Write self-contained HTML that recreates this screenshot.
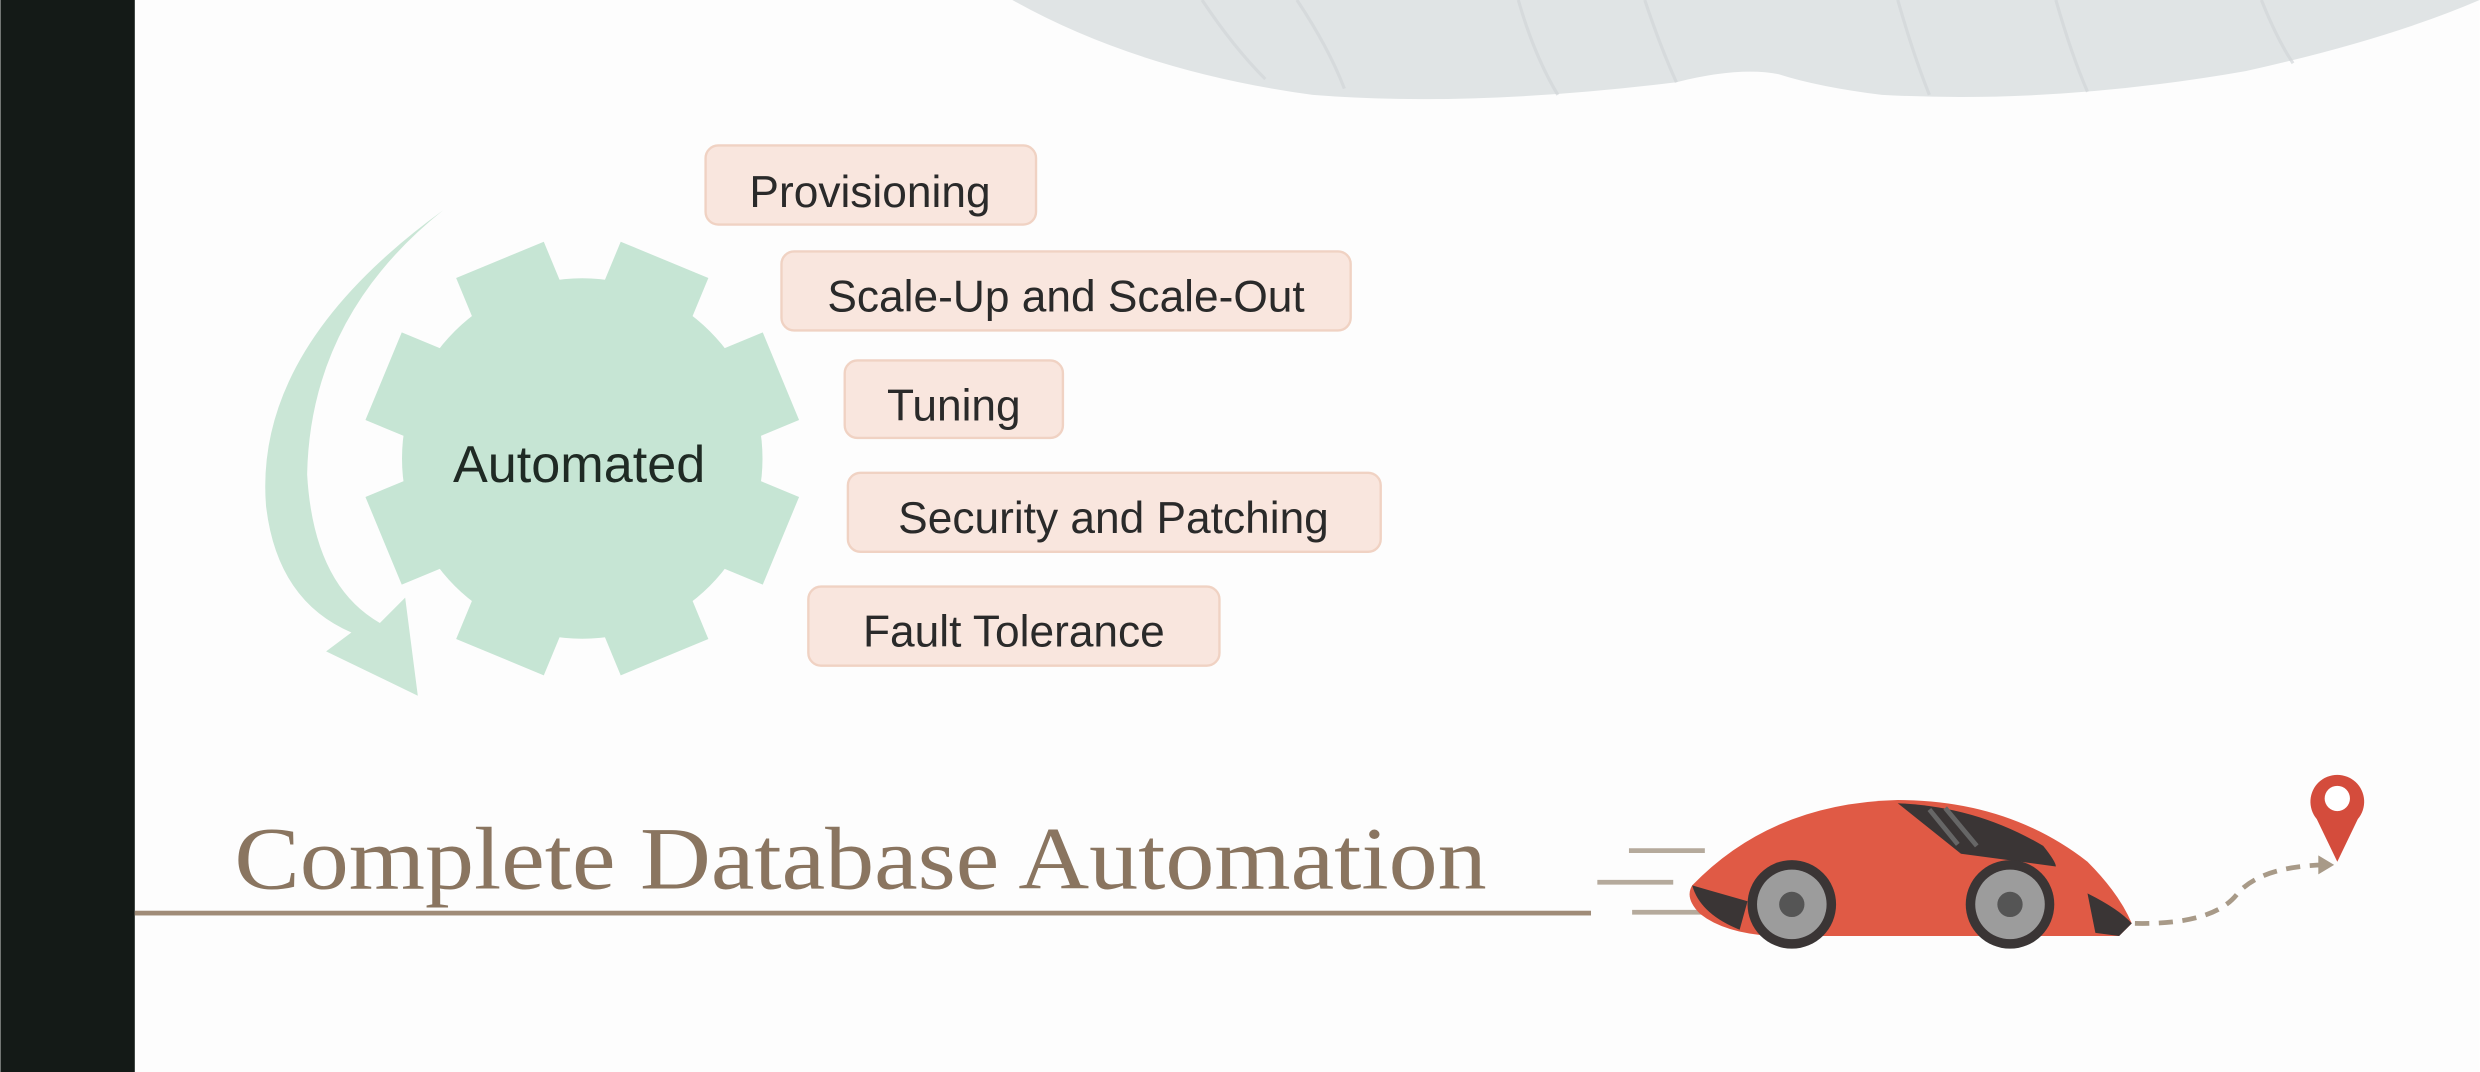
<!DOCTYPE html>
<html><head><meta charset="utf-8"><style>
html,body{margin:0;padding:0;background:#fff;}
svg{display:block;}
text{font-family:"Liberation Sans",sans-serif;}
</style></head><body>
<svg width="2480" height="1072" viewBox="0 0 1568 678" xmlns="http://www.w3.org/2000/svg">
<rect x="0" y="0" width="1568" height="678" fill="#fdfdfd"/>
<rect x="0" y="0" width="85" height="678" fill="#141a17"/>
<!-- top wave -->
<path d="M640,0 Q720,45 830,60 Q930,68 1060,52 Q1100,42 1125,47 Q1150,55 1190,60 Q1300,66 1420,45 Q1510,25 1568,0 Z" fill="#e0e4e5"/>
<g stroke="#d2d6d8" stroke-width="2" fill="none" opacity="0.7">
<path d="M760,0 Q780,30 800,50 M820,0 Q840,30 850,56 M960,0 Q970,35 985,60 M1040,0 Q1050,30 1060,52 M1200,0 Q1210,35 1220,60 M1300,0 Q1310,35 1320,58 M1430,0 Q1440,25 1450,40"/>
</g>
<!-- arrow -->
<path d="M280,133 Q160,220 168,320 Q175,380 222,400 L206,412 L264,440 L256,378 L240,394 Q198,370 194,300 Q196,200 280,133 Z" fill="#cae6d6"/>
<!-- gear -->
<g fill="#c6e5d4" transform="translate(368,290)">
<circle r="114"/>
<rect x="-30" y="-136" width="60" height="50" transform="rotate(22.5)"/>
<rect x="-30" y="-136" width="60" height="50" transform="rotate(67.5)"/>
<rect x="-30" y="-136" width="60" height="50" transform="rotate(112.5)"/>
<rect x="-30" y="-136" width="60" height="50" transform="rotate(157.5)"/>
<rect x="-30" y="-136" width="60" height="50" transform="rotate(202.5)"/>
<rect x="-30" y="-136" width="60" height="50" transform="rotate(247.5)"/>
<rect x="-30" y="-136" width="60" height="50" transform="rotate(292.5)"/>
<rect x="-30" y="-136" width="60" height="50" transform="rotate(337.5)"/>
</g>
<text x="366" y="305" font-size="33" fill="#1f2a24" text-anchor="middle">Automated</text>
<!-- boxes -->
<g fill="#f9e6de" stroke="#f0d2c3" stroke-width="1.5">
<rect x="446" y="92" width="209" height="50" rx="8"/>
<rect x="494" y="159" width="360" height="50" rx="8"/>
<rect x="534" y="228" width="138" height="49" rx="8"/>
<rect x="536" y="299" width="337" height="50" rx="8"/>
<rect x="511" y="371" width="260" height="50" rx="8"/>
</g>
<g font-size="28" fill="#2a2a2a" text-anchor="middle">
<text x="550" y="131">Provisioning</text>
<text x="674" y="197">Scale-Up and Scale-Out</text>
<text x="603" y="266">Tuning</text>
<text x="704" y="337">Security and Patching</text>
<text x="641" y="409">Fault Tolerance</text>
</g>
<!-- title -->
<text x="148" y="562" font-size="56" fill="#8a7560" textLength="792" lengthAdjust="spacingAndGlyphs" style="font-family:'Liberation Serif',serif">Complete Database Automation</text>
<rect x="85" y="576" width="921" height="3" fill="#a08c78"/>
<!-- car -->
<g stroke="#b5aa9c" stroke-width="3">
<line x1="1030" y1="538" x2="1078" y2="538"/>
<line x1="1010" y1="558" x2="1058" y2="558"/>
<line x1="1032" y1="577" x2="1080" y2="577"/>
</g>
<path d="M1070,560 Q1120,508 1200,506 Q1270,506 1320,545 Q1340,565 1348,584 L1340,592 L1120,592 Q1090,590 1075,578 Q1065,568 1070,560 Z" fill="#e05a45"/>
<path d="M1200,508 Q1250,510 1292,535 Q1300,545 1300,548 L1240,540 Z" fill="#3a3535"/>
<path d="M1220,512 L1238,534 M1230,511 L1250,535" stroke="#666" stroke-width="3"/>
<path d="M1320,565 Q1340,575 1348,584 L1340,592 L1325,590 Z" fill="#3a3535"/>
<path d="M1070,560 Q1075,578 1100,588 L1105,570 Z" fill="#3a3535"/>
<g>
<circle cx="1133" cy="572" r="28" fill="#3a3535"/><circle cx="1133" cy="572" r="22" fill="#9c9c9c"/><circle cx="1133" cy="572" r="8" fill="#555"/>
<circle cx="1271" cy="572" r="28" fill="#3a3535"/><circle cx="1271" cy="572" r="22" fill="#9c9c9c"/><circle cx="1271" cy="572" r="8" fill="#555"/>
</g>
<path d="M1350,584 Q1400,585 1415,565 Q1430,548 1470,547" stroke="#a89a88" stroke-width="3" stroke-dasharray="9,6" fill="none"/>
<polygon points="1466,541 1476,547 1466,553" fill="#a89a88"/>
<path d="M1478,545 L1465,518 A17,17 0 1 1 1491,518 Z" fill="#d44c3c"/>
<circle cx="1478" cy="505" r="8" fill="#fff"/>
</svg>
</body></html>
